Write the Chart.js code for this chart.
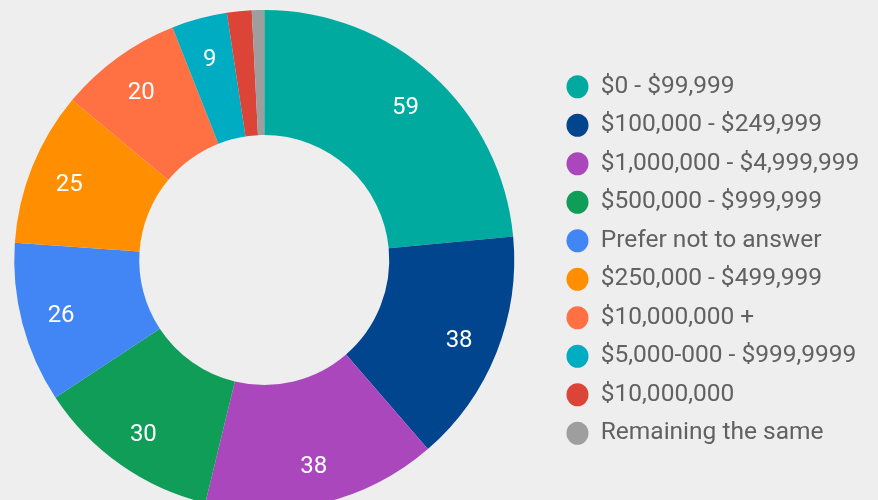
<!DOCTYPE html>
<html>
<head>
<meta charset="utf-8">
<script src="https://cdn.jsdelivr.net/npm/chart.js@4/dist/chart.umd.min.js"></script>
<style>
  html, body { margin: 0; padding: 0; background: #eeeeee; overflow: hidden; }
  #wrap { position: absolute; left: -24px; top: 0; width: 902px; height: 520px; }
</style>
</head>
<body>
<div id="wrap"><canvas id="grafico"></canvas></div>
<script>
const categorias = [
  '$0 - $99,999',
  '$100,000 - $249,999',
  '$1,000,000 - $4,999,999',
  '$500,000 - $999,999',
  'Prefer not to answer',
  '$250,000 - $499,999',
  '$10,000,000 +',
  '$5,000-000 - $999,9999',
  '$10,000,000',
  'Remaining the same'
];
const valores = [59, 38, 38, 30, 26, 25, 20, 9, 4, 2];
const colores = [
  '#00aa9f', '#01458e', '#ab47bc', '#0f9d58', '#4285f4',
  '#ff8f00', '#ff7043', '#00acc1', '#db4437', '#9e9e9e'
];

// valores dentro de cada porcion
const etiquetas = {
  id: 'etiquetas',
  afterDatasetsDraw(chart) {
    const ctx = chart.ctx;
    const meta = chart.getDatasetMeta(0);
    ctx.save();
    ctx.font = '24px Roboto';
    ctx.fillStyle = '#ffffff';
    ctx.textAlign = 'center';
    ctx.textBaseline = 'middle';
    meta.data.forEach(function(arc, i) {
      if (valores[i] < 5) return;
      const p = arc.getProps(['x', 'y', 'startAngle', 'endAngle', 'innerRadius', 'outerRadius'], true);
      const ang = (p.startAngle + p.endAngle) / 2;
      const r = p.innerRadius + (p.outerRadius - p.innerRadius) * 0.68;
      ctx.fillText(String(valores[i]), p.x + Math.cos(ang) * r, p.y + Math.sin(ang) * r + 3);
    });
    ctx.restore();
  }
};

const ctx = document.querySelector('#grafico');
new Chart(ctx, {
  type: 'doughnut',
  data: {
    labels: categorias,
    datasets: [{
      data: valores,
      backgroundColor: colores,
      borderWidth: 0
    }]
  },
  options: {
    responsive: true,
    maintainAspectRatio: false,
    animation: false,
    cutout: '50%',
    layout: {
      padding: { left: 0, right: 8.75, top: 10, bottom: 10 }
    },
    plugins: {
      tooltip: { enabled: false },
      legend: {
        position: 'right',
        labels: {
          usePointStyle: true,
          pointStyle: 'circle',
          pointStyleWidth: 22,
          boxHeight: 16.3,
          padding: 14,
          color: '#616161',
          font: { family: 'Roboto', size: 24.5 }
        }
      }
    }
  },
  plugins: [etiquetas]
});
</script>
</body>
</html>
